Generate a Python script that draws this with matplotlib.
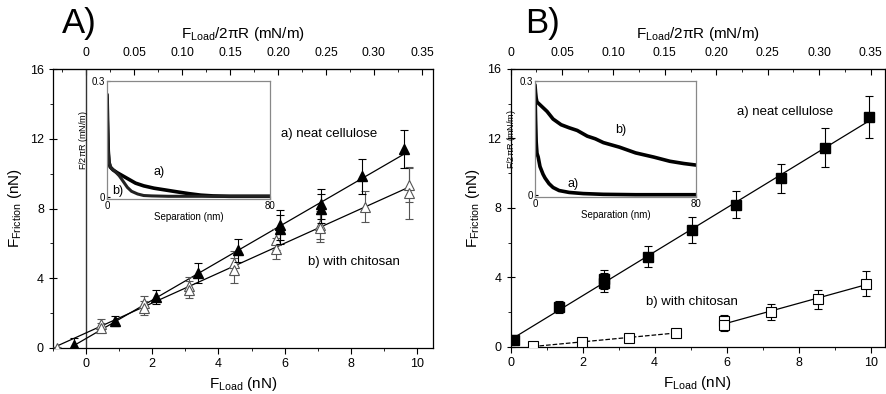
import numpy as np
import matplotlib
matplotlib.use("Agg")
from matplotlib import pyplot as plt
from matplotlib.ticker import MultipleLocator, FixedLocator, FuncFormatter

plt.rcParams['font.family'] = ['Liberation Sans', 'DejaVu Sans']
plt.rcParams['mathtext.fontset'] = 'custom'
plt.rcParams['mathtext.rm'] = 'Liberation Sans'
plt.rcParams['mathtext.it'] = 'Liberation Sans:italic'

# ---- panel A data (friction vs load) ----
a_neat_x = [-0.38, 0.88, 2.1, 3.37, 4.6, 5.85, 5.85, 7.1, 7.1, 8.34, 9.6]
a_neat_y = [0.15, 1.55, 2.95, 4.3, 5.6, 7.05, 6.8, 8.25, 8.0, 9.85, 11.4]
a_neat_err = [0.45, 0.3, 0.4, 0.55, 0.65, 0.85, 0.85, 0.85, 0.85, 1.0, 1.1]

a_chit_x = [-0.87, 0.45, 0.45, 1.75, 1.75, 3.11, 3.11, 4.48, 4.48, 5.75, 5.75, 7.08, 7.08, 8.44, 9.75, 9.75]
a_chit_y = [0.0, 1.35, 1.15, 2.6, 2.3, 3.55, 3.35, 4.88, 4.45, 6.2, 5.7, 7.05, 6.9, 8.1, 9.35, 8.9]
a_chit_err = [0.05, 0.3, 0.3, 0.4, 0.4, 0.5, 0.5, 0.7, 0.7, 0.6, 0.6, 0.8, 0.8, 0.9, 1.0, 1.5]

# ---- panel B data ----
b_neat_x = [0.11, 1.34, 2.59, 2.59, 3.83, 5.05, 6.27, 7.5, 8.74, 9.95]
b_neat_y = [0.42, 2.3, 3.9, 3.7, 5.19, 6.73, 8.2, 9.7, 11.48, 13.23]
b_neat_err = [0.25, 0.35, 0.55, 0.55, 0.6, 0.75, 0.75, 0.85, 1.1, 1.2]

b_chit_low_x = [0.62, 1.99, 3.3, 4.6]
b_chit_low_y = [0.04, 0.29, 0.52, 0.83]
b_chit_low_err = [0.05, 0.08, 0.08, 0.1]

b_chit_high_x = [5.93, 5.93, 7.24, 8.54, 9.86]
b_chit_high_y = [1.48, 1.25, 2.0, 2.75, 3.65]
b_chit_high_err = [0.35, 0.35, 0.45, 0.55, 0.7]

# top axis ticks (F/2piR, mN/m)
top_major = [0, 0.05, 0.10, 0.15, 0.20, 0.25, 0.30, 0.35]
top_minor_A = [-0.025, 0.025, 0.075, 0.125, 0.175, 0.225, 0.275, 0.325]
top_minor_B = [0.025, 0.075, 0.125, 0.175, 0.225, 0.275, 0.325]

# ---- inset force curves (separation nm, F/2piR mN/m) ----
insA_a_sep = [0, 0.3, 0.6, 1.0, 1.5, 3, 5, 8, 11, 14, 18, 23, 29, 35, 40, 46, 52, 60, 70, 80]
insA_a_f = [0.265, 0.19, 0.12, 0.09, 0.078, 0.07, 0.063, 0.054, 0.045, 0.036, 0.029, 0.023,
            0.018, 0.013, 0.009, 0.005, 0.003, 0.002, 0.002, 0.002]
insA_b_sep = [0, 0.3, 0.6, 1.0, 2, 4, 6, 8, 10, 12, 15, 18, 22, 30, 45, 60, 80]
insA_b_f = [0.25, 0.18, 0.12, 0.09, 0.075, 0.066, 0.055, 0.04, 0.025, 0.015, 0.008, 0.004,
            0.003, 0.002, 0.002, 0.002, 0.002]

insB_b_sep = [0, 0.3, 0.6, 1, 2, 4, 6, 9, 13, 17, 21, 26, 30, 34, 42, 50, 59, 67, 74, 80]
insB_b_f = [0.29, 0.27, 0.255, 0.245, 0.24, 0.23, 0.22, 0.2, 0.185, 0.177, 0.17, 0.155,
            0.148, 0.138, 0.126, 0.111, 0.1, 0.089, 0.083, 0.079]
insB_a_sep = [0, 0.3, 0.6, 1, 1.6, 2.5, 4, 5, 7, 9, 12, 17, 24, 34, 50, 80]
insB_a_f = [0.28, 0.2, 0.14, 0.11, 0.1, 0.075, 0.055, 0.045, 0.03, 0.02, 0.012, 0.007,
            0.004, 0.002, 0.001, 0.001]

LOAD = r'F$_{\mathregular{Load}}$'
FRIC = r'F$_{\mathregular{Friction}}$ (nN)'


def top_fmt(v, pos):
    if abs(v) < 1e-9:
        return '0'
    return '%.2f' % v


def style_main(ax, k, minors):
    ax.set_ylim(0, 16)
    ax.xaxis.set_major_locator(MultipleLocator(2))
    ax.xaxis.set_minor_locator(MultipleLocator(1))
    ax.yaxis.set_major_locator(MultipleLocator(4))
    ax.yaxis.set_minor_locator(MultipleLocator(2))
    ax.tick_params(axis='x', which='major', direction='out', length=4, labelsize=9)
    ax.tick_params(axis='x', which='minor', direction='out', length=2.5)
    ax.tick_params(axis='y', which='major', direction='inout', length=6, labelsize=9)
    ax.tick_params(axis='y', which='minor', direction='out', length=2.5)
    ax.set_xlabel(LOAD + ' (nN)', fontsize=11, labelpad=3)
    ax.set_ylabel(FRIC, fontsize=11, labelpad=4)
    for s in ax.spines.values():
        s.set_linewidth(0.9)
    sec = ax.secondary_xaxis('top', functions=(lambda x: x * k, lambda x: x / k))
    sec.xaxis.set_major_locator(FixedLocator(top_major))
    sec.xaxis.set_minor_locator(FixedLocator(minors))
    sec.xaxis.set_major_formatter(FuncFormatter(top_fmt))
    sec.tick_params(which='major', direction='in', length=4, labelsize=8.8, pad=7)
    sec.tick_params(which='minor', direction='in', length=2.5)
    sec.set_xlabel(LOAD + r'/2$\mathregular{\pi}$R (mN/m)', fontsize=11, labelpad=7)


def style_inset(ax):
    ax.set_xlim(0, 80)
    ax.set_ylim(-0.005, 0.3)
    ax.set_xticks([0, 80])
    ax.set_yticks([0, 0.3])
    ax.set_yticklabels(['0', '0.3'])
    ax.tick_params(direction='in', length=2, labelsize=7, pad=1.5)
    for s in ax.spines.values():
        s.set_color('#888888')
        s.set_linewidth(0.9)
    ax.set_xlabel('Separation (nm)', fontsize=7, labelpad=1)
    ax.set_ylabel(r'F/2$\mathregular{\pi}$R (mN/m)', fontsize=6.5, labelpad=1)


def fit_line(ax, xs, ys, ls='-'):
    p = np.polyfit(xs, ys, 1)
    xx = np.array([min(xs), max(xs)])
    ax.plot(xx, np.polyval(p, xx), color='black', lw=0.9, ls=ls, zorder=2)


fig = plt.figure(figsize=(8.86, 3.94), dpi=100)

# ---------------- panel A ----------------
axA = fig.add_axes([0.0598, 0.1168, 0.4289, 0.708])
axA.set_xlim(-1, 10.48)
axA.axvline(0, color='#333333', lw=1.0, zorder=1)
fit_line(axA, a_neat_x, a_neat_y)
fit_line(axA, a_chit_x, a_chit_y)
axA.errorbar(a_chit_x, a_chit_y, yerr=a_chit_err, fmt='^', ms=7, mfc='white', mec='#555555',
             mew=0.8, ecolor='#555555', elinewidth=0.8, capsize=3, capthick=0.8, zorder=3)
axA.errorbar(a_neat_x, a_neat_y, yerr=a_neat_err, fmt='^', ms=7, mfc='black', mec='black',
             ecolor='black', elinewidth=0.8, capsize=3, capthick=0.8, zorder=4)
style_main(axA, 0.0345, top_minor_A)
axA.text(5.9, 12.3, 'a) neat cellulose', fontsize=9.5, va='center')
axA.text(6.7, 4.95, 'b) with chitosan', fontsize=9.5, va='center')
fig.text(0.070, 0.915, 'A)', fontsize=25)

insA = fig.add_axes([0.1208, 0.4949, 0.184, 0.2995])
insA.plot(insA_a_sep, insA_a_f, color='black', lw=2.6, solid_capstyle='round')
insA.plot(insA_b_sep, insA_b_f, color='#222222', lw=2.2, solid_capstyle='round')
style_inset(insA)
insA.text(23, 0.066, 'a)', fontsize=9, va='center')
insA.text(2.5, 0.016, 'b)', fontsize=9, va='center')

# ---------------- panel B ----------------
axB = fig.add_axes([0.5762, 0.1193, 0.4227, 0.7056])
axB.set_xlim(0, 10.4)
fit_line(axB, b_neat_x, b_neat_y)
fit_line(axB, b_chit_low_x, b_chit_low_y, ls='--')
fit_line(axB, b_chit_high_x, b_chit_high_y)
axB.errorbar(b_neat_x, b_neat_y, yerr=b_neat_err, fmt='s', ms=6.5, mfc='black', mec='black',
             ecolor='black', elinewidth=0.8, capsize=3, capthick=0.8, zorder=4)
axB.errorbar(b_chit_low_x, b_chit_low_y, yerr=b_chit_low_err, fmt='s', ms=6.5, mfc='white',
             mec='black', mew=0.8, ecolor='black', elinewidth=0.8, capsize=2, zorder=4)
axB.errorbar(b_chit_high_x, b_chit_high_y, yerr=b_chit_high_err, fmt='s', ms=6.5, mfc='white',
             mec='black', mew=0.8, ecolor='black', elinewidth=0.8, capsize=3, capthick=0.8, zorder=4)
style_main(axB, 0.035, top_minor_B)
axB.text(6.3, 13.5, 'a) neat cellulose', fontsize=9.5, va='center')
axB.text(3.76, 2.6, 'b) with chitosan', fontsize=9.5, va='center')
fig.text(0.593, 0.915, 'B)', fontsize=25)

insB = fig.add_axes([0.6038, 0.5, 0.1817, 0.2944])
insB.plot(insB_b_sep, insB_b_f, color='black', lw=2.6, solid_capstyle='round')
insB.plot(insB_a_sep, insB_a_f, color='black', lw=2.6, solid_capstyle='round')
style_inset(insB)
insB.text(40, 0.17, 'b)', fontsize=9, va='center')
insB.text(16, 0.03, 'a)', fontsize=9, va='center')

fig.savefig('out.png', dpi=100)
